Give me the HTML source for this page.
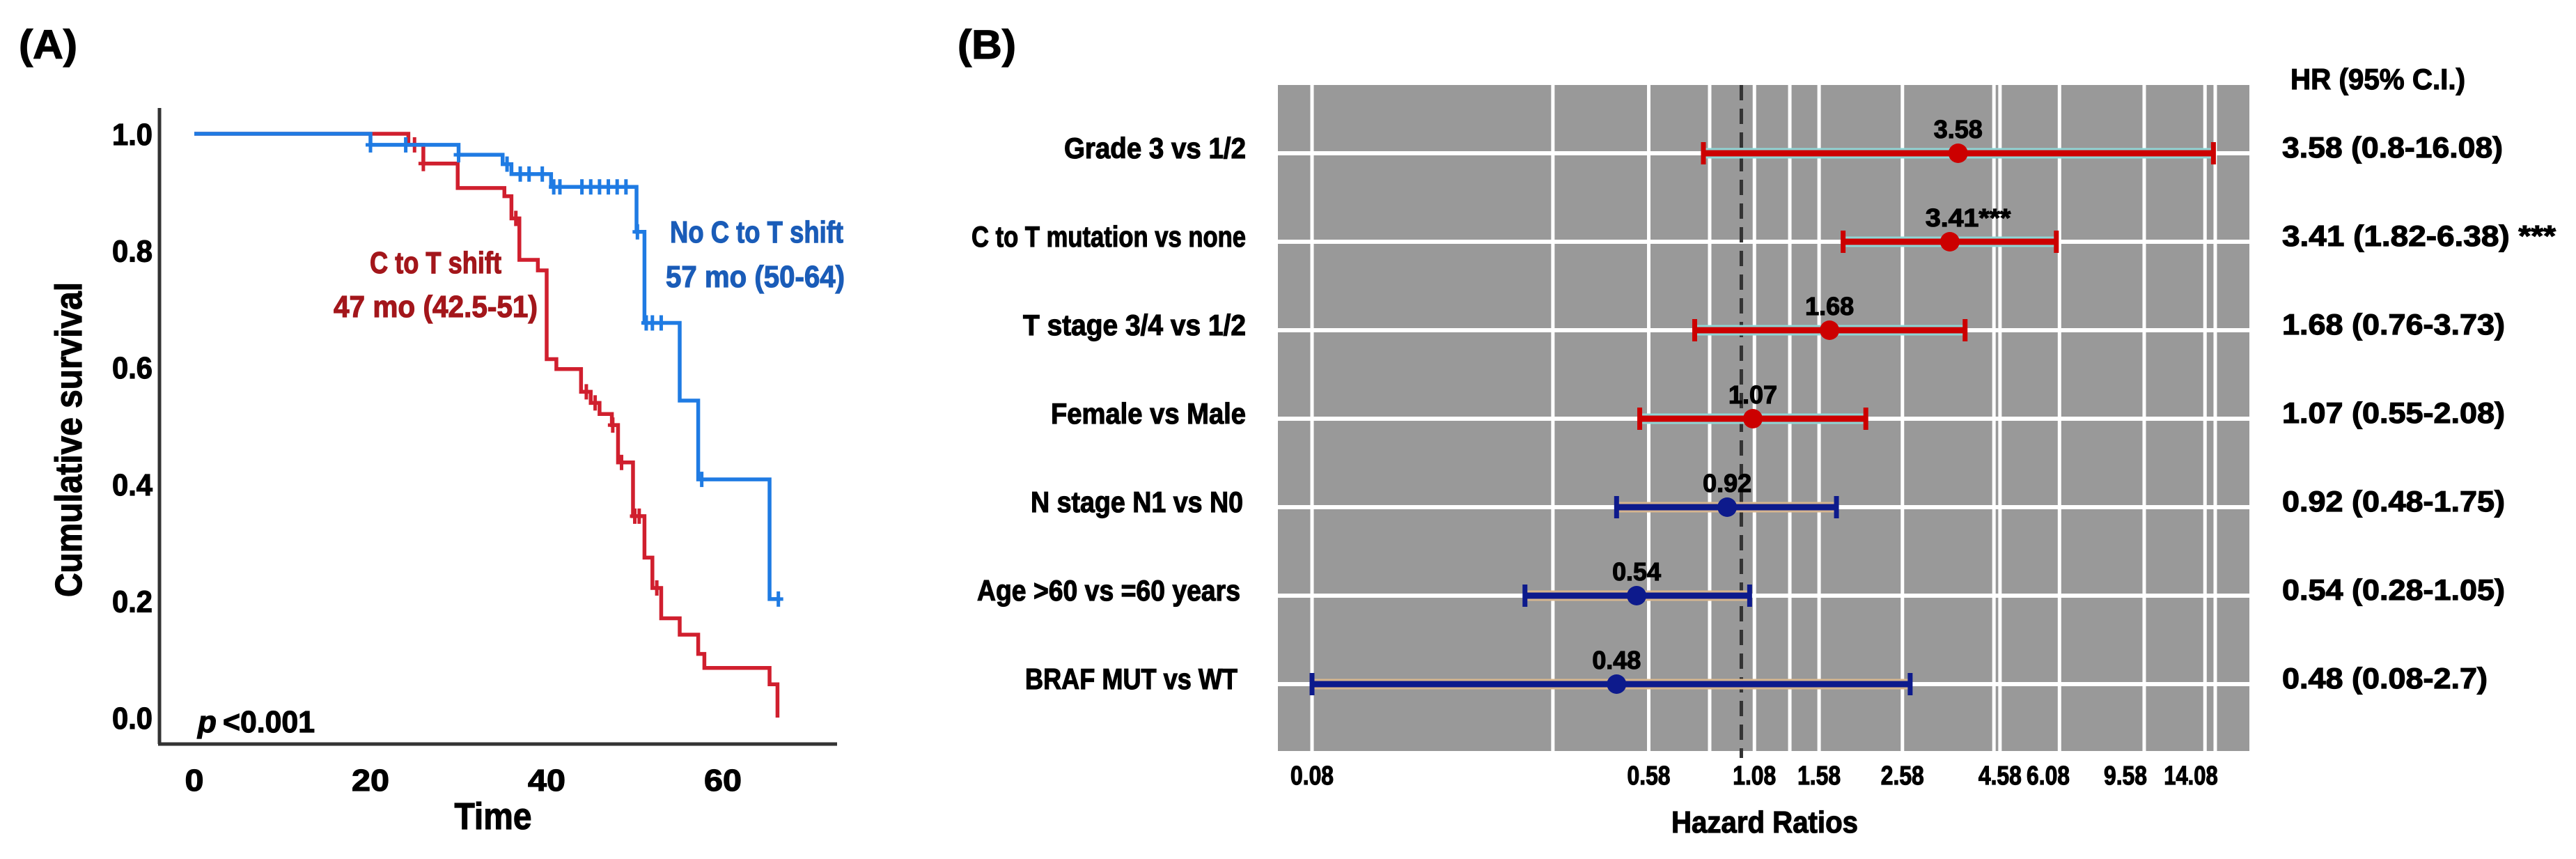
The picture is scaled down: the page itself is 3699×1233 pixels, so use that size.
<!DOCTYPE html>
<html><head><meta charset="utf-8"><style>
html,body{margin:0;padding:0;background:#fff;}
svg{display:block;font-family:"Liberation Sans",sans-serif;font-weight:bold;}
</style></head><body>
<svg id="fig" width="3699" height="1233" viewBox="0 0 3699 1233" xmlns="http://www.w3.org/2000/svg">
<rect width="3699" height="1233" fill="#fff"/>
<g id="panelA"></g>
<g id="panelB"></g>
</svg>
<script>
// ---------- Panel A data ----------
const yTicksA = [0, 0.2, 0.4, 0.6, 0.8, 1.0];
const yTickLabelsA = ["0.0","0.2","0.4","0.6","0.8","1.0"];
const xTicksA = [0, 20, 40, 60];
const xTickLabelsA = ["0","20","40","60"];
const blueTimes = [0,20,30,35,36,40.5,50.2,51.1,55.1,57.2,65.3];
const blueSurv = [1,0.981,0.964,0.948,0.931,0.909,0.832,0.676,0.543,0.408,0.203];
const blueEnd = 66.5;
const blueCensor = [20,24,30,35.5,37,38,39.5,40.8,41.5,44,45,46,47,48,49,50.3,51.3,52,53,57.6,66.3];
const redTimes = [0,24.3,26,29.9,35.2,36,36.9,39,40,41.1,43.9,45,46,47.4,48.1,49.8,51.1,52,53,55.1,57.2,57.9,65.3,66.2];
const redSurv = [1,0.981,0.949,0.907,0.893,0.855,0.784,0.766,0.614,0.597,0.558,0.539,0.52,0.501,0.437,0.345,0.274,0.222,0.17,0.142,0.109,0.085,0.057,0];
const redEnd = 66.2;
const redCensor = [25,26,36.5,44.5,45.5,47.5,48.5,50,50.5,52.5];

// ---------- Panel B data ----------
const factors = ["Grade 3 vs 1/2","C to T mutation vs none","T stage 3/4 vs 1/2","Female vs Male","N stage N1 vs N0","Age >60 vs =60 years","BRAF MUT vs WT"];
const hr = [3.58,3.41,1.68,1.07,0.92,0.54,0.48];
const lower = [0.8,1.82,0.76,0.55,0.48,0.28,0.08];
const upper = [16.08,6.38,3.73,2.08,1.75,1.05,2.7];
const pointLabels = ["3.58","3.41***","1.68","1.07","0.92","0.54","0.48"];
const ciLabels = ["3.58 (0.8-16.08)","3.41 (1.82-6.38) ***","1.68 (0.76-3.73)","1.07 (0.55-2.08)","0.92 (0.48-1.75)","0.54 (0.28-1.05)","0.48 (0.08-2.7)"];
const riskGroup = ["up","up","up","up","down","down","down"];
const xBreaksB = [0.08,0.58,1.08,1.58,2.58,4.58,6.08,9.58,14.08];
const xBreakLabelsB = ["0.08","0.58","1.08","1.58","2.58","4.58","6.08","9.58","14.08"];
const gridValsB = [0.08,0.33,0.58,0.83,1.08,1.33,1.58,2.58,4.42,4.58,6.5,10.7,15.3,16.25];

const NS="http://www.w3.org/2000/svg";
function mk(tag, attrs, parent){const e=document.createElementNS(NS,tag);for(const k in attrs)e.setAttribute(k,attrs[k]);parent.appendChild(e);return e;}
function txt(parent,x,y,s,size,opts){opts=opts||{};const f=opts.fill||'#000';const t=mk('text',{x:x,y:y,'font-size':size,fill:f,stroke:f,'stroke-width':1.2,'text-anchor':opts.anchor||'start'},parent);
 if(opts.len){t.setAttribute('textLength',opts.len);t.setAttribute('lengthAdjust','spacingAndGlyphs');}
 if(opts.style)t.setAttribute('font-style',opts.style);
 if(opts.transform)t.setAttribute('transform',opts.transform);
 t.textContent=s;return t;}

// ---------- Panel A ----------
const A=document.getElementById('panelA');
const xA=t=>279+12.65*t;
const yA=v=>1030-838*v;
let e;
e=txt(A,27,84,"(A)",58,{len:84});


e=mk('line',{x1:229,y1:155,x2:229,y2:1068,stroke:'#333','stroke-width':5},A);


e=mk('line',{x1:227,y1:1068,x2:1202,y2:1068,stroke:'#333','stroke-width':5},A);


yTicksA.forEach((v,i)=>{
  const t=txt(A,219,yA(v)+16,yTickLabelsA[i],44,{anchor:'end',len:58});
  
  
});
xTicksA.forEach((v,i)=>{
  const t=txt(A,xA(v),1135,xTickLabelsA[i],44,{anchor:'middle',len:xTickLabelsA[i].length*27});
  
  
});
e=txt(A,0,0,"Cumulative survival",54,{anchor:'middle',len:452,transform:'translate(117,631) rotate(-90)'});


e=txt(A,708,1190,"Time",54,{anchor:'middle',len:111});



function stepPath(times,surv,end){let d='M'+xA(times[0])+' '+yA(surv[0]);for(let i=1;i<times.length;i++){d+=' H'+xA(times[i])+' V'+yA(surv[i]);}d+=' H'+xA(end);return d;}
function survAt(times,surv,t){let s=surv[0];for(let i=0;i<times.length;i++){if(times[i]<=t)s=surv[i];}return s;}
function drawKM(times,surv,end,cens,color,name){
  const p=mk('path',{d:stepPath(times,surv,end),fill:'none',stroke:color,'stroke-width':5.5},A);
  
  
  cens.forEach(t=>{
    const s=survAt(times,surv,t);
    const c=mk('line',{x1:xA(t),y1:yA(s)-11,x2:xA(t),y2:yA(s)+11,stroke:color,'stroke-width':5},A);
    
    
    const h=mk('line',{x1:xA(t)-7,y1:yA(s),x2:xA(t)+7,y2:yA(s),stroke:color,'stroke-width':5},A);
    
    
  });
}
drawKM(redTimes,redSurv,redEnd,redCensor,'#d01f2e','c-to-t-shift');
drawKM(blueTimes,blueSurv,blueEnd,blueCensor,'#1f7be3','no-c-to-t-shift');
e=txt(A,962,348,"No C to T shift",44,{fill:'#1a5cb8',len:249});


e=txt(A,956,412,"57 mo (50-64)",44,{fill:'#1a5cb8',len:257});


e=txt(A,531,392,"C to T shift",44,{fill:'#a3161b',len:189});


e=txt(A,479,455,"47 mo (42.5-51)",44,{fill:'#a3161b',len:293});


e=txt(A,284,1051,"p",44,{style:'italic'});


e=txt(A,320,1051,"<0.001",44,{len:132});



// ---------- Panel B ----------
const B=document.getElementById('panelB');
const xB=v=>1884+562*Math.log10(v/0.08);
const rowY=i=>220+127*i;
const L=1835,R=3230,T=122,Bt=1078;
e=txt(B,1375,84,"(B)",58,{len:84});


e=mk('rect',{x:L,y:T,width:R-L,height:Bt-T,fill:'#999999'},B);


gridValsB.forEach(v=>{
  const g=mk('line',{x1:xB(v),y1:T,x2:xB(v),y2:Bt,stroke:'#fff','stroke-width':5},B);
  
  
});
factors.forEach((f,i)=>{
  const g=mk('line',{x1:L,y1:rowY(i),x2:R,y2:rowY(i),stroke:'#fff','stroke-width':6},B);
  
  
});
e=mk('line',{x1:xB(1),y1:T,x2:xB(1),y2:Bt+10,stroke:'#333','stroke-width':5,'stroke-dasharray':'22 12'},B);


const labelLens=[261,394,320,280,305,378,305];
const ciLens=[317,393,320,320,320,320,295];
factors.forEach((f,i)=>{
  const y=rowY(i);
  const col=riskGroup[i]==='up'?'#cc0000':'#0d1a8c';
  const halo=riskGroup[i]==='up'?'#8fd6d6':'#d6b58e';
  const h=mk('line',{x1:xB(lower[i]),y1:y,x2:xB(upper[i]),y2:y,stroke:halo,'stroke-width':15},B);
  
  
  const l=mk('line',{x1:xB(lower[i]),y1:y,x2:xB(upper[i]),y2:y,stroke:col,'stroke-width':9},B);
  
  
  [lower[i],upper[i]].forEach(v=>{
    const c=mk('line',{x1:xB(v),y1:y-16,x2:xB(v),y2:y+16,stroke:col,'stroke-width':7},B);
    
    
  });
  const p=mk('circle',{cx:xB(hr[i]),cy:y,r:14,fill:col},B);
  
  
  const pl=txt(B,xB(hr[i])-35,y-22,pointLabels[i],36,{len:pointLabels[i].length*17.5});
  
  
  const fl=txt(B,1789-(i>=4?(i-3)*4:0),y+7,f,42,{anchor:'end',len:labelLens[i]});
  
  
  const cl=txt(B,3277,y+6,ciLabels[i],42,{len:ciLens[i]});
  
  
});
e=txt(B,3289,128,"HR (95% C.I.)",42,{len:251});


xBreaksB.forEach((v,i)=>{
  const s=xBreakLabelsB[i];
  const t=txt(B,xB(v),1126,s,38,{anchor:'middle',len:s.length*15.5});
  
  
});
e=txt(B,2534,1195,"Hazard Ratios",44,{anchor:'middle',len:268});


</script>
</body></html>
